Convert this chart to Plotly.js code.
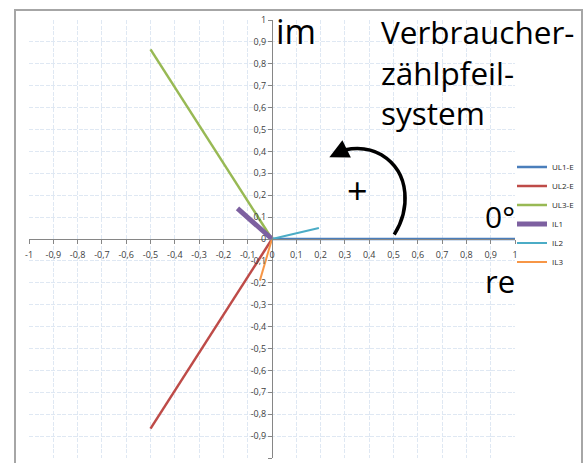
<!DOCTYPE html>
<html>
<head>
<meta charset="utf-8">
<script src="https://cdn.plot.ly/plotly-3.0.1.min.js"></script>
<style>html,body{margin:0;padding:0;background:#fff;}#chart{width:584px;height:463px;}</style>
</head>
<body>
<div id="chart"></div>
<script>
// Phasor data (real / imaginary parts, per unit)
const seriesNames = ['UL1-E', 'UL2-E', 'UL3-E', 'IL1', 'IL2', 'IL3'];
const startRe = [0, 0, 0, 0, 0, 0];
const startIm = [0, 0, 0, 0, 0, 0];
const endRe = [1, -0.5, -0.5, -0.142, 0.193, -0.05];
const endIm = [0, -0.866, 0.866, 0.14, 0.05, -0.19];
const seriesColors = ['#4A7EBB', '#BE4B48', '#98B954', '#7D60A0', '#4BACC6', '#F79646'];
const seriesWidths = [2.5, 2.5, 2.5, 5, 2, 2];

const tickValues = [-1, -0.9, -0.8, -0.7, -0.6, -0.5, -0.4, -0.3, -0.2, -0.1, 0, 0.1, 0.2, 0.3, 0.4, 0.5, 0.6, 0.7, 0.8, 0.9, 1];
const tickLabels = ['-1', '-0,9', '-0,8', '-0,7', '-0,6', '-0,5', '-0,4', '-0,3', '-0,2', '-0,1', '0', '0,1', '0,2', '0,3', '0,4', '0,5', '0,6', '0,7', '0,8', '0,9', '1'];

const traces = seriesNames.map((name, i) => ({
  type: 'scatter',
  mode: 'lines',
  name: name,
  x: [startRe[i], endRe[i]],
  y: [startIm[i], endIm[i]],
  line: {color: seriesColors[i], width: seriesWidths[i]},
  hoverinfo: 'skip'
}));

const W = 584, H = 463;
const L = 29, R = 515, T = 20, B = 458;
function px(xp) { return (xp - L) / (R - L); }
function py(yp) { return (B - yp) / (B - T); }

const axisCommon = {
  range: [-1, 1],
  tickmode: 'array',
  tickvals: tickValues,
  ticktext: tickLabels,
  showgrid: true,
  gridcolor: '#dfe8f3',
  griddash: '4px,1.5px',
  gridwidth: 1,
  zeroline: false,
  showline: true,
  linecolor: '#868686',
  linewidth: 1,
  ticks: 'outside',
  ticklen: 4,
  tickcolor: '#868686',
  tickfont: {family: 'Open Sans', size: 9, color: '#404040'},
  anchor: 'free',
  position: 0.5,
  fixedrange: true,
  automargin: false
};

const bigFont = (s) => ({family: 'Open Sans', size: s, color: '#000'});

const layout = {
  width: W, height: H,
  margin: {l: L, r: W - R, t: T, b: H - B, pad: 0},
  paper_bgcolor: '#ffffff',
  plot_bgcolor: '#ffffff',
  showlegend: true,
  legend: {
    x: px(512), y: py(214.5), xanchor: 'left', yanchor: 'middle',
    xref: 'paper', yref: 'paper',
    font: {family: 'Open Sans', size: 8, color: '#262626'},
    bgcolor: 'rgba(0,0,0,0)',
    itemwidth: 30,
    tracegroupgap: 0
  },
  xaxis: Object.assign({}, axisCommon, {side: 'bottom', ticklabelstandoff: 3}),
  yaxis: Object.assign({}, axisCommon, {side: 'left'}),
  shapes: [
    // outer chart frame
    {type: 'rect', xref: 'paper', yref: 'paper',
     x0: px(15), x1: px(582), y0: py(475), y1: py(10),
     line: {color: '#a6a6a6', width: 2}, fillcolor: 'rgba(0,0,0,0)', layer: 'below'},
    // rotation arc
    {type: 'path', xref: 'x', yref: 'y',
     path: 'M 0.503,0.02 C 0.565,0.13 0.575,0.30 0.45,0.385 C 0.39,0.425 0.31,0.42 0.262,0.39',
     line: {color: '#000', width: 3.5}}
  ],
  annotations: [
    {xref: 'x', yref: 'y', x: 0.236, y: 0.373, ax: 0.28, ay: 0.397, axref: 'x', ayref: 'y',
     text: '', showarrow: true, arrowhead: 2, arrowsize: 1.1, arrowwidth: 3.5, arrowcolor: '#000'},
    {xref: 'paper', yref: 'paper', x: px(357), y: py(190), xanchor: 'center', yanchor: 'middle',
     text: '+', showarrow: false, font: bigFont(36)},
    {xref: 'paper', yref: 'paper', x: px(274), y: py(31), xanchor: 'left', yanchor: 'middle',
     text: 'im', showarrow: false, font: bigFont(34)},
    {xref: 'paper', yref: 'paper', x: px(379), y: py(31), xanchor: 'left', yanchor: 'middle',
     text: 'Verbraucher-', showarrow: false, font: bigFont(31.5)},
    {xref: 'paper', yref: 'paper', x: px(379), y: py(72), xanchor: 'left', yanchor: 'middle',
     text: 'zählpfeil-', showarrow: false, font: bigFont(31.5)},
    {xref: 'paper', yref: 'paper', x: px(379), y: py(113), xanchor: 'left', yanchor: 'middle',
     text: 'system', showarrow: false, font: bigFont(31.5)},
    {xref: 'paper', yref: 'paper', x: px(483), y: py(216), xanchor: 'left', yanchor: 'middle',
     text: '0°', showarrow: false, font: bigFont(30)},
    {xref: 'paper', yref: 'paper', x: px(483), y: py(281), xanchor: 'left', yanchor: 'middle',
     text: 're', showarrow: false, font: bigFont(31)}
  ]
};

Plotly.newPlot('chart', traces, layout, {displayModeBar: false, staticPlot: true});
</script>
</body>
</html>
